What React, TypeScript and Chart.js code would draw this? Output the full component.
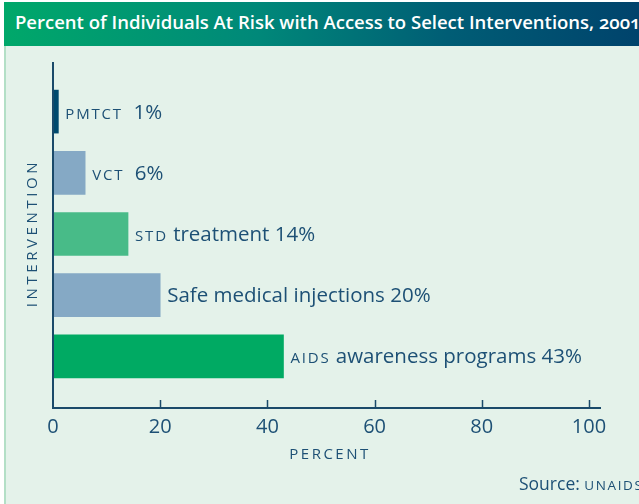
import React, { useEffect, useRef } from 'react';
import { Chart, registerables } from 'chart.js';

Chart.register(...registerables);

// ---- data ----
const categories = ['PMTCT', 'VCT', 'STD treatment', 'Safe medical injections', 'AIDS awareness programs'];
const values = [1, 6, 14, 20, 43];
const capsParts = ['pmtct', 'vct', 'std', '', 'aids'];
const textParts = ['  ', '  ', ' treatment ', 'Safe medical injections ', ' awareness programs '];
const barColors = ['#004a6e', '#85a9c5', '#48bb88', '#85a9c5', '#00aa63'];
const xTickValues = [0, 20, 40, 60, 80, 100];
const titleText = 'Percent of Individuals At Risk with Access to Select Interventions, 2001';
const xAxisTitle = 'PERCENT';
const yAxisTitle = 'INTERVENTION';
const sourceLabel = 'Source:';
const sourceName = 'unaids';

const INK = '#1d5075';
const FONT = "'Open Sans', 'DejaVu Sans', sans-serif";

const decorPlugin = {
  id: 'decor',
  afterDatasetsDraw(chart: any) {
    const ctx = chart.ctx;
    const area = chart.chartArea;
    const xs = chart.scales.x;
    const axisY = area.bottom + 21;
    const axisTop = area.top - 19;
    const x0 = xs.getPixelForValue(0);
    ctx.save();
    // axes
    ctx.strokeStyle = '#1a4a6a';
    ctx.lineWidth = 2;
    ctx.beginPath();
    ctx.moveTo(x0, axisTop);
    ctx.lineTo(x0, axisY);
    ctx.lineTo(xs.getPixelForValue(100) + 12, axisY);
    ctx.stroke();
    ctx.lineWidth = 1.5;
    xTickValues.forEach((v) => {
      if (v === 0) return;
      const px = Math.round(xs.getPixelForValue(v)) + 0.5;
      ctx.beginPath();
      ctx.moveTo(px, axisY - 8);
      ctx.lineTo(px, axisY);
      ctx.stroke();
    });

    // bar labels
    const meta = chart.getDatasetMeta(0);
    ctx.fillStyle = INK;
    ctx.textBaseline = 'alphabetic';
    meta.data.forEach((el: any, i: number) => {
      let x = el.x + 7;
      const y = el.y + 7;
      if (capsParts[i]) {
        ctx.font = `500 15px ${FONT}`;
        (ctx as any).letterSpacing = '1.8px';
        const t = capsParts[i].toUpperCase();
        ctx.fillText(t, x, y);
        x += ctx.measureText(t).width;
      }
      (ctx as any).letterSpacing = '0px';
      ctx.font = `400 20.5px ${FONT}`;
      const t2 = textParts[i] + values[i] + '%';
      ctx.fillText(t2, x, y);
    });

    // axis titles
    ctx.font = `500 15px ${FONT}`;
    (ctx as any).letterSpacing = '2.5px';
    ctx.textAlign = 'center';
    ctx.textBaseline = 'middle';
    ctx.fillText(xAxisTitle, (x0 + xs.getPixelForValue(100)) / 2 + 9, 455);
    ctx.save();
    ctx.translate(33, (axisTop + axisY) / 2 - 2);
    ctx.rotate(-Math.PI / 2);
    (ctx as any).letterSpacing = '3.6px';
    ctx.fillText(yAxisTitle, 0, 0);
    ctx.restore();

    // source
    ctx.textAlign = 'left';
    ctx.textBaseline = 'alphabetic';
    (ctx as any).letterSpacing = '0px';
    ctx.font = `400 17.5px ${FONT}`;
    ctx.fillText(sourceLabel, 519, 490);
    const w = ctx.measureText(sourceLabel + ' ').width;
    ctx.font = `500 13.5px ${FONT}`;
    (ctx as any).letterSpacing = '1.6px';
    ctx.fillText(sourceName.toUpperCase(), 519 + w, 490);
    ctx.restore();
  },
};

export default function App() {
  const ref = useRef<HTMLCanvasElement>(null);
  useEffect(() => {
    if (!ref.current) return;
    const chart = new Chart(ref.current, {
      type: 'bar',
      data: {
        labels: categories,
        datasets: [
          {
            data: values,
            backgroundColor: barColors,
            borderWidth: 0,
            barThickness: 43,
          },
        ],
      },
      options: {
        indexAxis: 'y',
        animation: false,
        responsive: false,
        maintainAspectRatio: false,
        layout: { padding: { left: 53, right: 50, top: 81, bottom: 57 } },
        plugins: { legend: { display: false }, tooltip: { enabled: false }, title: { display: false } },
        scales: {
          x: {
            type: 'linear',
            min: 0,
            max: 100,
            afterFit: (s: any) => { s.height = 60; },
            ticks: { stepSize: 20, color: INK, font: { family: FONT, size: 20 }, padding: 28, autoSkip: false, maxRotation: 0 },
            grid: { display: false, drawTicks: false },
            border: { display: false },
          },
          y: {
            type: 'category',
            afterFit: (s: any) => { s.width = 0; },
            ticks: { display: false },
            grid: { display: false, drawTicks: false },
            border: { display: false },
          },
        },
      },
      plugins: [decorPlugin],
    } as any);
    return () => chart.destroy();
  }, []);

  return (
    <div style={{ position: 'absolute', left: 0, top: 0, width: 639, height: 504, background: '#ffffff', overflow: 'hidden' }}>
      <div
        style={{
          position: 'absolute', left: 4, top: 2, width: 635, height: 44,
          background: 'linear-gradient(90deg, #00a86a 0%, #008879 40%, #005d75 70%, #00436c 100%)',
          color: '#ffffff', fontFamily: FONT, fontWeight: 600, fontSize: 18.5, lineHeight: '40px',
          paddingLeft: 11, whiteSpace: 'nowrap', overflow: 'hidden', boxSizing: 'border-box',
          fontVariantNumeric: 'oldstyle-nums',
        }}
      >
        {titleText}
      </div>
      <div style={{ position: 'absolute', left: 4, top: 46, width: 635, height: 458, background: '#e4f2ea', borderLeft: '2px solid #b3dfc6', boxSizing: 'border-box' }} />
      <canvas ref={ref} width={639} height={504} style={{ position: 'absolute', left: 0, top: 0, width: 639, height: 504 }} />
    </div>
  );
}
